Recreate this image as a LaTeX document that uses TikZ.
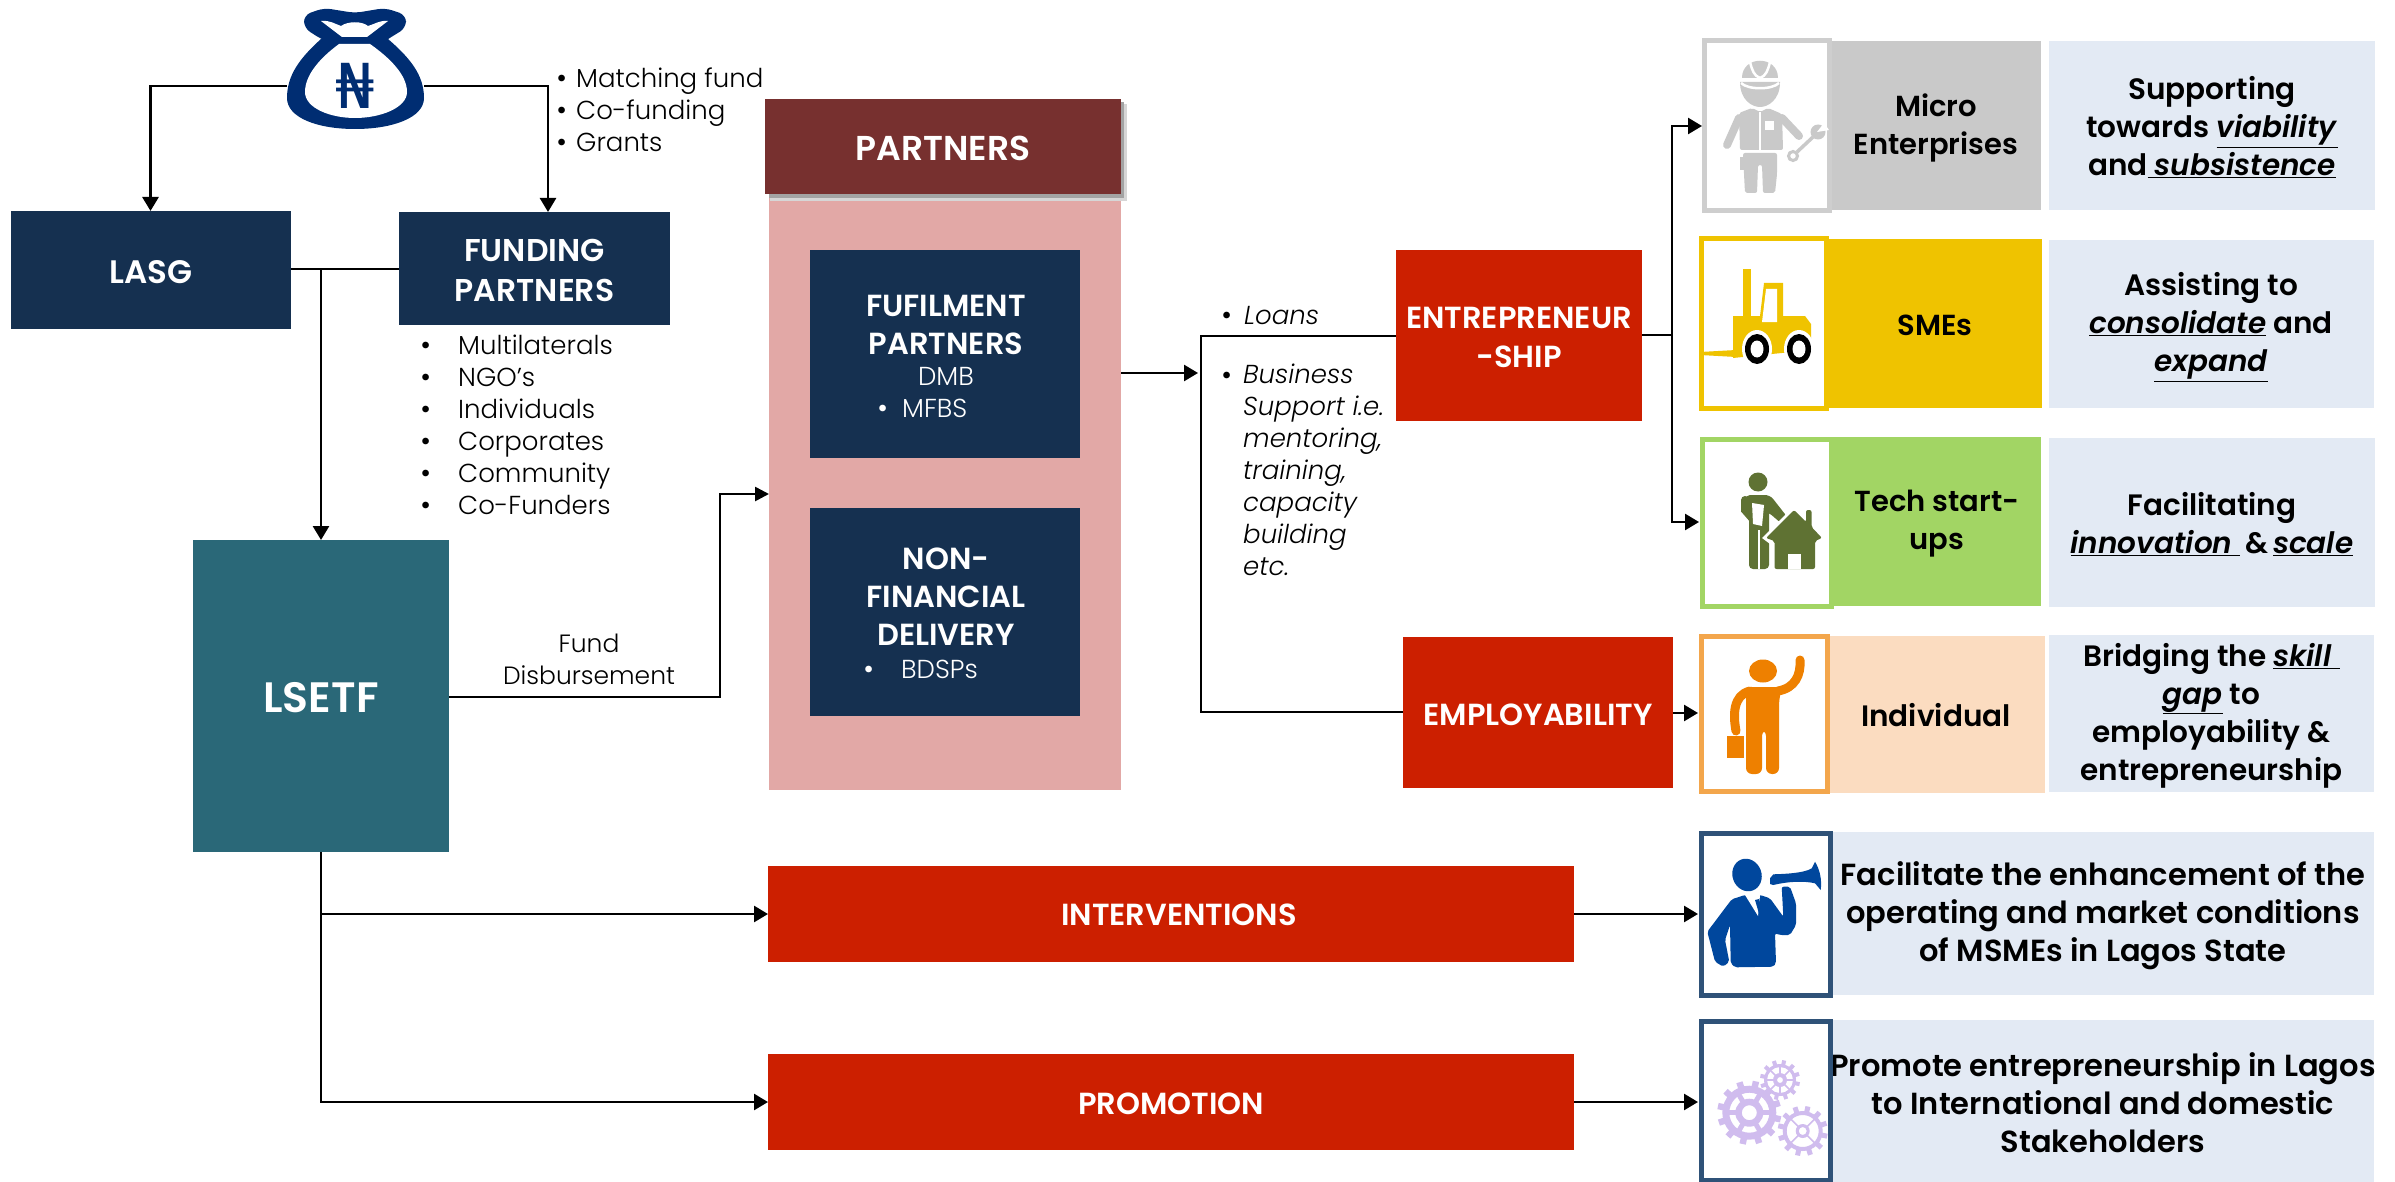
\documentclass[tikz,border=0pt]{standalone}
\usepackage{fontspec}
\setmainfont{Poppins}[BoldFont={Poppins SemiBold},BoldItalicFont={Poppins SemiBold Italic}]
\newfontfamily\lightf{Poppins Light}
\newfontfamily\nairaf{DejaVu Sans}
\usetikzlibrary{arrows.meta,calc}
\definecolor{navy}{HTML}{153050}
\definecolor{teal2}{HTML}{2A6878}
\definecolor{wine}{HTML}{77302F}
\definecolor{pink2}{HTML}{E2A8A6}
\definecolor{red2}{HTML}{CC1F00}
\definecolor{gray2}{HTML}{C9C9C9}
\definecolor{gold2}{HTML}{EFC300}
\definecolor{green2}{HTML}{A2D564}
\definecolor{peach2}{HTML}{FBDCC0}
\definecolor{pale}{HTML}{E3EAF4}
\definecolor{bagblue}{HTML}{002D72}
\definecolor{olive2}{HTML}{5F7233}
\definecolor{orange2}{HTML}{EE8000}
\definecolor{blue2}{HTML}{00479D}
\definecolor{lilac}{HTML}{D0BCEE}
\definecolor{iconb}{HTML}{2F5278}
\tikzset{
  x=1pt,y=-1pt,
  blk/.style={inner sep=0pt,outer sep=0pt,draw=none},
  wb/.style={text=white,font=\fontsize{#1}{\dimexpr#1pt*125/100\relax}\selectfont\bfseries,align=center,inner sep=0pt},
  kb/.style={text=black,font=\fontsize{#1}{38}\selectfont\bfseries,align=center,inner sep=0pt},
  lt/.style={text=black,font=\fontsize{#1}{32}\selectfont\lightf,align=left,inner sep=0pt,anchor=base west,yshift=-9pt},
  dot/.style={text=#1,font=\fontsize{27}{32}\selectfont,inner sep=0pt,anchor=base west,yshift=-9pt},
  ltw/.style={text=white,font=\fontsize{#1}{32}\selectfont\lightf,align=left,inner sep=0pt},
  conn/.style={draw=black,line width=2.6pt},
  arr/.style={conn,-{Triangle[length=14pt,width=16pt]}},
  iconbox/.style={draw=#1,line width=5pt,fill=white,inner sep=0pt,outer sep=0pt},
}
% fill node, then its text as a node of its own set 2 units lower
\newcommand\bx[7]{%
  \pgfmathsetmacro\bxw{#5-#3}\pgfmathsetmacro\bxh{#6-#4}%
  \pgfmathsetmacro\bxx{(#3+#5)/2}\pgfmathsetmacro\bxy{(#4+#6)/2}%
  \node[blk,#2,minimum width=\bxw pt,minimum height=\bxh pt] (#1) at (\bxx,\bxy) {};
  \if\relax\detokenize{#7}\relax\else
    \node[#2,fill=none,draw=none,yshift=-2pt] (#1t) at (\bxx,\bxy) {#7};
  \fi}
\newcommand\ulit[1]{\underline{\textit{#1}}}
% x y R ringout ringin hubout hole spokes-list spoke-width
\newcommand\gear[9]{%
  \begin{scope}[shift={(#1,#2)}]
    \fill[lilac,even odd rule] (0,0) circle[radius=#4] (0,0) circle[radius=#5];
    \fill[lilac,even odd rule] (0,0) circle[radius=#6] (0,0) circle[radius=#7];
    \foreach \a in {0,30,...,330}{
      \draw[lilac,line width=#3*0.2pt] (\a+12:#4-1) -- (\a+12:#3);
    }
    \foreach \a in {#8}{
      \draw[lilac,line width=#9 pt] (\a:#6-1) -- (\a:#5+1);
    }
  \end{scope}}
\begin{document}
\begin{tikzpicture}
\useasboundingbox (0,0) rectangle (2395,1182);

% ---- money bag
\fill[bagblue,rounded corners=7pt] (321,39) -- (304,28) -- (304,15) -- (324,8) -- (355,13) -- (385,8) -- (406,15) -- (406,28) -- (388,39) -- (372,50) -- (362,50) -- (348,50) -- cycle;
\fill[bagblue] (321,39) .. controls (300,58) and (287,75) .. (287,98) .. controls (287,118) and (318,129) .. (355,129) .. controls (392,129) and (424,118) .. (424,98) .. controls (424,75) and (410,58) .. (388,39) -- cycle;
\fill[white] (339,44) .. controls (320,58) and (305,75) .. (305,92) .. controls (305,108) and (330,118) .. (355,118) .. controls (380,118) and (407,108) .. (407,92) .. controls (407,75) and (390,58) .. (370,44) -- cycle;
\fill[white] (342,37) -- (321,21) .. controls (330,20) and (335,24) .. (341,26) .. controls (348,21) and (362,21) .. (368,26) .. controls (375,24) and (380,20) .. (388,21) -- (367,37) -- cycle;
\node[blk,minimum width=137pt,minimum height=60pt,text=bagblue,font=\fontsize{62}{64}\selectfont\nairaf] (bag) at (355.5,86) {₦};

% ---- left column boxes
\bx{lasg}{fill=navy,wb=32.5}{11}{211}{291}{329}{LASG}
\bx{funding}{fill=navy,wb=31.5}{399}{212}{670}{325}{FUNDING\\PARTNERS}
\bx{lsetf}{fill=teal2,wb=42.5}{193}{540}{449}{852}{LSETF}

\node[lt=26] (bula) at (576,79) {Matching fund};
\node[lt=26] (bulb) at (576,111) {Co-funding};
\node[lt=26] (bulc) at (576,143) {Grants};
\node[dot=black] (buld) at (556,79) {•};
\node[dot=black] (bule) at (556,111) {•};
\node[dot=black] (bulf) at (556,143) {•};

\foreach \n/\t/\y in {fa/Multilaterals/345,fb/NGO’s/377,fc/Individuals/409,fd/Corporates/441,fe/Community/473,ff/Co-Funders/505}{
  \node[lt=26] (\n) at (458,\y) {\t};
  \node[dot=black] (\n b) at (420,\y) {•};
}
\node[blk,align=center,font=\fontsize{25}{32}\selectfont\lightf] (fund) at (589,659) {Fund\\Disbursement};

% ---- partners
\bx{pinkbg}{fill=pink2}{769}{190}{1121}{790}{}
\bx{pshadowa}{fill=black!16}{770}{104}{1127}{201}{}
\bx{pshadowb}{fill=black!36}{769}{102}{1124}{198}{}
\bx{partners}{fill=wine,wb=34.5}{765}{99}{1121}{194}{PARTNERS}
\bx{fulf}{fill=navy}{810}{250}{1080}{458}{}
\bx{nonfin}{fill=navy}{810}{508}{1080}{716}{}
\node[wb=30.5] (fulft) at (946,325) {FUFILMENT\\PARTNERS};
\node[ltw=26] (dmb) at (946,376) {DMB};
\node[dot=white] (mfbsb) at (877,408) {•};
\node[ltw=26,anchor=west] (mfbs) at (902,408) {MFBS};
\node[wb=30.5] (nonfint) at (946,597) {NON-\\FINANCIAL\\DELIVERY};
\node[dot=white] (bdspb) at (863,669) {•};
\node[ltw=26,anchor=west] (bdsp) at (901,669) {BDSPs};

% ---- red boxes
\bx{entre}{fill=red2,wb=30.5}{1396}{250}{1642}{421}{ENTREPRENEUR\\-SHIP}
\bx{emplo}{fill=red2,wb=30.5}{1403}{637}{1673}{788}{EMPLOYABILITY}
\bx{interv}{fill=red2}{768}{866}{1574}{962}{}
\node[wb=30.5] (intervt) at (1179,915) {INTERVENTIONS};
\bx{promo}{fill=red2,wb=30.5}{768}{1054}{1574}{1150}{PROMOTION}

\node[lt=26,font=\fontsize{26}{32}\selectfont\lightf\itshape] (loans) at (1244,315) {Loans};
\node[dot=black] (loansb) at (1221,315) {•};
\node[dot=black] (bussb) at (1221,375) {•};
\node[lt=26,font=\fontsize{26}{32}\selectfont\lightf\itshape,anchor=north west] (buss) at (1243,355) {Business\\Support i.e.\\mentoring,\\training,\\capacity\\building\\etc.};

% ---- right column: description panels
\bx{mic}{fill=gray2,kb=29}{1831}{41}{2041}{210}{Micro\\Enterprises}
\bx{sme}{fill=gold2,kb=29}{1828}{239}{2042}{408}{SMEs}
\bx{tech}{fill=green2,kb=29}{1833}{437}{2041}{606}{Tech start-\\ups}
\bx{ind}{fill=peach2}{1829}{636}{2045}{793}{}
\node[kb=29.5] (indt) at (1936,715) {Individual};
\bx{pa}{fill=pale,kb=29.5}{2049}{41}{2375}{210}{Supporting\\towards \ulit{viability}\\and\underline{\ \textit{subsistence}}}
\bx{pb}{fill=pale}{2049}{240}{2374}{408}{}
\node[kb=29.5] (pbt) at (2211,327) {Assisting to\\\ulit{consolidate}\ and\\\ulit{expand}};
\bx{pc}{fill=pale,kb=29.5}{2049}{438}{2375}{607}{Facilitating\\\underline{\textit{innovation }}\,\&\,\ulit{scale}}
\bx{pd}{fill=pale,kb=29.5}{2049}{635}{2374}{792}{Bridging the \underline{\textit{skill\ }}\\\ulit{gap} to\\employability \&\\entrepreneurship}
\bx{pe}{fill=pale,kb=30.5}{1832}{832}{2374}{995}{Facilitate the enhancement of the\\operating and market conditions\\of MSMEs in Lagos State}
\bx{pf}{fill=pale,kb=30.5}{1832}{1020}{2374}{1182}{Promote entrepreneurship in Lagos\\to International and domestic\\Stakeholders}

% ---- icon frames
\bx{icmic}{iconbox=gray2!90}{1704}{41}{1829}{211}{}
\bx{icsme}{iconbox=gold2}{1701}{239}{1826}{408}{}
\bx{ictech}{iconbox=green2}{1702}{439}{1831}{606}{}
\bx{icind}{iconbox=orange2!70}{1701}{636}{1827}{791}{}
\bx{icint}{iconbox=iconb}{1701}{833}{1830}{995}{}
\bx{icpro}{iconbox=iconb}{1701}{1021}{1830}{1180}{}

% ---- icon: worker
\begin{scope}[gray2]
  \fill (1742,78) .. controls (1742,55) and (1778,55) .. (1778,78) -- cycle;
  \draw[white,line width=2.5pt] (1750,62) .. controls (1752,70) and (1754,76) .. (1760,78) .. controls (1766,76) and (1768,70) .. (1770,62);
  \fill (1740,82) .. controls (1740,100) and (1752,107) .. (1760,107) .. controls (1768,107) and (1780,100) .. (1780,82) -- cycle;
  \draw[white,line width=2.5pt] (1741,83) .. controls (1748,90) and (1772,90) .. (1779,83);
  \fill[rounded corners=2pt] (1739,113) -- (1752,108) -- (1760,112) -- (1768,108) -- (1782,114) -- (1783,150) -- (1740,150) -- cycle;
  \draw[line width=8pt,line cap=round] (1739,118) -- (1727,145);
  \draw[line width=8pt,line cap=round] (1782,118) -- (1799,136);
  \draw[white,line width=1.5pt] (1760,112) -- (1760,150);
  \fill[white] (1765,121) rectangle (1774,130);
  \fill[rounded corners=2pt] (1743,153) -- (1777,153) -- (1777,174) -- (1775,193) -- (1763,193) -- (1762,165) -- (1758,165) -- (1757,193) -- (1745,193) -- (1744,174) -- cycle;
  \fill (1740,157) rectangle (1744,170);
  \draw[line width=3.5pt] (1797,152) -- (1813,137);
  \draw[line width=3pt] (1793,156) circle[radius=4.5];
  \fill (1818,132) circle[radius=7.5];
  \fill[white] (1817,132) -- (1824,123) -- (1829,130) -- cycle;
\end{scope}

% ---- icon: forklift
\fill[gold2] (1743,269) rectangle (1751,320);
\fill[gold2] (1733,316) -- (1760,316) -- (1764,283) -- (1783,283) -- (1783,316) -- (1805,316) -- (1811,324) -- (1811,350) -- (1733,358) -- cycle;
\fill[white] (1766,289) -- (1777,289) -- (1777,322) -- (1762,322) -- cycle;
\fill[gold2] (1700,352) -- (1736,350) -- (1736,357) -- (1700,355) -- cycle;
\foreach \n/\cx in {a/1757,b/1799}{
  \fill[white] (\cx,349) ellipse[x radius=15,y radius=19];
  \fill[black] (\cx,349) ellipse[x radius=12,y radius=15];
  \fill[white] (\cx,349) ellipse[x radius=6.5,y radius=8.5];
}

% ---- icon: person and house
\begin{scope}[olive2]
  \fill (1758,482) circle[radius=9.5];
  \fill[rounded corners=4pt] (1749,505) rectangle (1769,569);
  \fill[rounded corners=5pt] (1745,495) -- (1770,495) -- (1788,518) -- (1782,524) -- (1768,512) -- (1745,512) -- cycle;
  \draw[line width=8pt,line cap=round] (1745,500) -- (1745,510) -- (1752,518);
  \fill[white] (1752,503) -- (1764,505) -- (1762,526) -- (1753,524) -- cycle;
  \draw[white,line width=2pt] (1759,530) -- (1759,569);
  \fill[white] (1762,538) -- (1794,506) -- (1826,538) -- (1826,544) -- (1770,544) -- cycle;
  \fill[rounded corners=2pt] (1766,538) -- (1794,510) -- (1806,522) -- (1806,510) -- (1811.5,510) -- (1811.5,527) -- (1822,538) -- (1815,541) -- (1815,569) -- (1774.5,569) -- (1774.5,541) -- cycle;
  \fill[white] (1788,553.5) rectangle (1801,569);
\end{scope}

% ---- icon: orange person
\begin{scope}[orange2]
  \fill (1763,671) ellipse[x radius=14,y radius=11.5];
  \fill[rounded corners=6pt] (1746,687) -- (1782,687) -- (1779,700) -- (1779,774) -- (1766,774) -- (1766,730) -- (1762,730) -- (1762,774) -- (1746,774) -- cycle;
  \draw[line width=9pt,line cap=round] (1750,691) .. controls (1733,695) and (1733,715) .. (1736,731);
  \draw[line width=9pt,line cap=round] (1778,691) .. controls (1795,688) and (1801,675) .. (1800,660);
  \fill (1727,736) rectangle (1743.6,758);
\end{scope}

% ---- icon: man with megaphone
\begin{scope}[blue2]
  \fill[rotate around={20:(1747,875)}] (1747,875) ellipse[x radius=14.5,y radius=16.5];
  \fill[rounded corners=2pt] (1745,895) -- (1731.7,899.3) -- (1707.3,931.7) -- (1715,961.7) -- (1723.3,966.7) -- (1729.3,961.7) -- (1725,940) -- (1730,925) -- (1730.7,963.3) -- (1735,967.3) -- (1773.3,966.7) -- (1776,963.3) -- (1775,933.3) -- (1780,935) -- (1790,935) -- (1796,925) -- (1796,903.3) -- (1790,886.7) -- (1781.7,886.7) -- (1783.3,916.7) -- (1770,898.3) -- (1760,895) -- cycle;
  \fill (1770,878.3) -- (1773.3,874.3) .. controls (1785,874) and (1805,873) .. (1811.7,868.3) -- (1815,861.7) .. controls (1820,870) and (1822,880) .. (1820.7,890) -- (1815,883.3) .. controls (1805,881) and (1790,881) .. (1773.3,885) -- (1770,884) -- cycle;
  \fill[white] (1745,895) -- (1758,916) -- (1760,895) -- cycle;
  \fill (1755,900) -- (1759,899) -- (1763,915) -- (1760,917) -- cycle;
\end{scope}

% ---- icon: gears
\gear{1749.3}{1112.7}{32}{27}{20}{14}{7.5}{0,60,120,180,240,300}{5}
\gear{1802.7}{1131}{25}{20}{16}{7}{4}{45,135,225,315}{1.6}
\gear{1780}{1080}{20}{16}{13}{7}{3}{0,45,90,135,180,225,270,315}{1.5}

% ---- connectors
\coordinate (lasgin) at (150.5,211);
\coordinate (fundin) at (548,212);
\coordinate (jlasg) at (321,269);
\coordinate (lsetfin) at (321,540);
\coordinate (lsetfout) at (321,852);
\coordinate (junc) at (321,914);
\coordinate (fundout) at (449,697);
\coordinate (fundbend) at (720,697);
\coordinate (pinkin) at (769,494);
\coordinate (pinkout) at (1121,373);
\coordinate (splitin) at (1198,373);
\coordinate (splita) at (1201,336);
\coordinate (splitb) at (1201,712);
\coordinate (sh) at (1672,335);
\coordinate (micin) at (1702,126);
\coordinate (techin) at (1699,522);
\coordinate (indy) at (1698,713);
\coordinate (intin) at (1698,914);
\coordinate (proin) at (1698,1102);
\draw[arr] (bag.east) -| (fundin);
\draw[arr] (bag.west) -| (lasgin);
\draw[conn] (lasg.east |- jlasg) -- (funding.west |- jlasg);
\draw[arr] (jlasg) -- (lsetfin);
\draw[conn,-{Triangle[length=14pt,width=14pt]}] (fundout) -- (fundbend) |- (pinkin);
\draw[arr] (pinkout) -- (splitin);
\draw[conn,line width=2pt] (entre.west |- splita) -- (splita) -- (splitb) -- (emplo.west |- splitb);
\draw[conn] (entre.east |- sh) -- (sh);
\draw[arr] (sh) |- (micin);
\draw[arr] (sh) |- (techin);
\draw[arr] (emplo.east |- indy) -- (indy);
\draw[arr] (lsetfout) |- (promo.west);
\draw[arr] (junc) -- (interv.west);
\draw[arr] (interv.east) -- (intin);
\draw[arr] (promo.east) -- (proin);
\end{tikzpicture}
\end{document}
